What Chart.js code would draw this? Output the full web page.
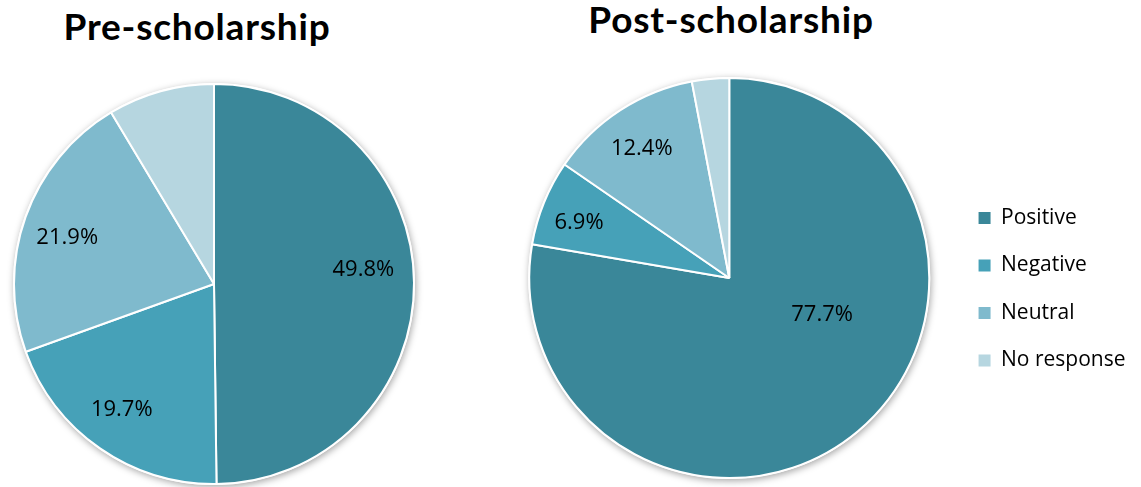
<!DOCTYPE html>
<html>
<head>
<meta charset="utf-8">
<title>Pre- and post-scholarship</title>
<script src="https://cdn.jsdelivr.net/npm/chart.js@4.4.1/dist/chart.umd.min.js"></script>
<style>
    body { margin: 0; background: #fff; }
    #wrap { position: relative; width: 1141px; height: 487px; overflow: hidden; }
    canvas { position: absolute; top: 0; }
    #preChart { left: 0; }
    #postChart { left: 500px; }
    .title {
        position: absolute;
        font-family: Lato, sans-serif;
        font-weight: 700;
        font-size: 37px;
        line-height: 37px;
        letter-spacing: 0.8px;
        color: #000;
        transform: translateX(-50%);
        white-space: nowrap;
    }
</style>
</head>
<body>
<div id="wrap">
    <div class="title" style="left:197px; top:7px;">Pre-scholarship</div>
    <div class="title" style="left:731px; top:0px;">Post-scholarship</div>
    <canvas id="preChart" width="430" height="487"></canvas>
    <canvas id="postChart" width="641" height="487"></canvas>
</div>
<script>
// --- data (percent of responses) ---
const categories = ['Positive', 'Negative', 'Neutral', 'No response'];
const preValues = [49.8, 19.7, 21.9, 8.6];
const postValues = [77.7, 6.9, 12.4, 3.0];

const sliceColors = ['#3A8799', '#46A1B8', '#7FBACD', '#B6D6E0'];

Chart.defaults.font.family = '"Open Sans", sans-serif';
Chart.defaults.color = '#000';

// soft grey shadow behind the whole pie
const pieShadow = {
    id: 'pieShadow',
    beforeDatasetsDraw(chart) {
        const arc = chart.getDatasetMeta(0).data[0];
        if (!arc) return;
        const ctx = chart.ctx;
        ctx.save();
        ctx.shadowColor = 'rgba(0, 0, 0, 0.35)';
        ctx.shadowBlur = 7;
        ctx.shadowOffsetX = 1;
        ctx.shadowOffsetY = 2;
        ctx.fillStyle = '#fff';
        ctx.beginPath();
        ctx.arc(arc.x, arc.y, arc.outerRadius + 1, 0, Math.PI * 2);
        ctx.fill();
        ctx.restore();
    }
};

// percentage labels inside the slices (null placement = no label, as in the original)
const sliceLabels = {
    id: 'sliceLabels',
    afterDatasetsDraw(chart, args, opts) {
        const ctx = chart.ctx;
        const meta = chart.getDatasetMeta(0);
        const values = chart.data.datasets[0].data;
        const total = values.reduce((a, b) => a + b, 0);
        ctx.save();
        ctx.font = '22px "Open Sans"';
        ctx.fillStyle = '#000';
        ctx.textAlign = 'center';
        ctx.textBaseline = 'middle';
        meta.data.forEach((arc, i) => {
            const place = opts.placement[i];
            if (!place) return;
            const pct = values[i] / total * 100;
            const angle = (arc.startAngle + arc.endAngle) / 2 + place.shift * Math.PI / 180;
            const r = arc.outerRadius * place.r;
            ctx.fillText(pct.toFixed(1) + '%', arc.x + Math.cos(angle) * r, arc.y + Math.sin(angle) * r);
        });
        ctx.restore();
    }
};

function pieData(values) {
    return {
        labels: categories,
        datasets: [{
            data: values,
            backgroundColor: sliceColors,
            borderColor: '#fff',
            borderWidth: 2,
            hoverOffset: 0
        }]
    };
}

// --- PRE-SCHOLARSHIP PIE ---
new Chart(document.getElementById('preChart'), {
    type: 'pie',
    data: pieData(preValues),
    plugins: [pieShadow, sliceLabels],
    options: {
        responsive: false,
        animation: false,
        layout: { padding: { left: 13, right: 15, top: 83, bottom: 2 } },
        plugins: {
            legend: { display: false },
            tooltip: { enabled: false },
            sliceLabels: {
                placement: [
                    { r: 0.75, shift: -5 },
                    { r: 0.78, shift: 1.5 },
                    { r: 0.77, shift: -2 },
                    null
                ]
            }
        }
    }
});

// --- POST-SCHOLARSHIP PIE (carries the legend) ---
new Chart(document.getElementById('postChart'), {
    type: 'pie',
    data: pieData(postValues),
    plugins: [pieShadow, sliceLabels],
    options: {
        responsive: false,
        animation: false,
        layout: { padding: { left: 6.5, right: 5.5, top: 77, bottom: 8 } },
        plugins: {
            tooltip: { enabled: false },
            legend: {
                display: true,
                position: 'right',
                align: 'center',
                // empty title only nudges the entries down to where they sit in the original
                title: { display: true, text: '', padding: 0, font: { size: 15, lineHeight: 1.5 } },
                labels: {
                    color: '#000',
                    boxWidth: 12,
                    boxHeight: 12,
                    padding: 26.5,
                    font: { size: 21 },
                    generateLabels(chart) {
                        return Chart.overrides.pie.plugins.legend.labels.generateLabels(chart)
                            .map(item => Object.assign(item, { lineWidth: 0 }));
                    }
                }
            },
            sliceLabels: {
                placement: [
                    { r: 0.5, shift: -28 },
                    { r: 0.80, shift: -2 },
                    { r: 0.78, shift: -1 },
                    null
                ]
            }
        }
    }
});
</script>
</body>
</html>
